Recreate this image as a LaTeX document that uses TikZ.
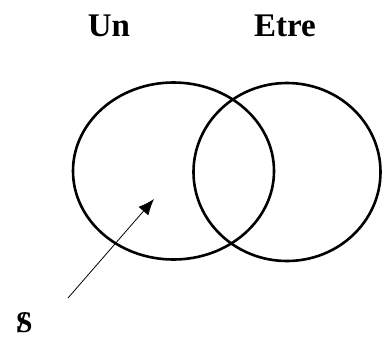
\documentclass[tikz,border=0pt]{standalone}
\usepackage{fontspec}
\setmainfont{Liberation Serif}
\usetikzlibrary{arrows.meta,shapes.geometric}

\begin{document}
\begin{tikzpicture}[x=1pt, y=-1pt, every node/.style={font=\fontsize{33}{40}\selectfont\bfseries},
    ring/.style={draw, ellipse, line width=2.6pt, inner sep=0pt}]
        \useasboundingbox (0,0) rectangle (382,338);
        \node[anchor=base] (un) at (109,36) {Un};
        \node[anchor=base] (etre) at (285,36) {Etre};
        \node[ring, minimum width=201pt, minimum height=177pt] (left) at (173.5,171) {};
        \node[ring, minimum width=187pt, minimum height=178pt] (right) at (287,172) {};
        \node[anchor=base, font=\fontsize{30}{36}\selectfont\bfseries] (s) at (21,332) {S\kern-0.5em/};
        \coordinate (from) at (68,298);
        \coordinate (tip) at (154,199);
        \draw[-{Latex[length=16pt,width=13pt]}, line width=0.8pt] (from) -- (tip);
    \end{tikzpicture}
\end{document}
